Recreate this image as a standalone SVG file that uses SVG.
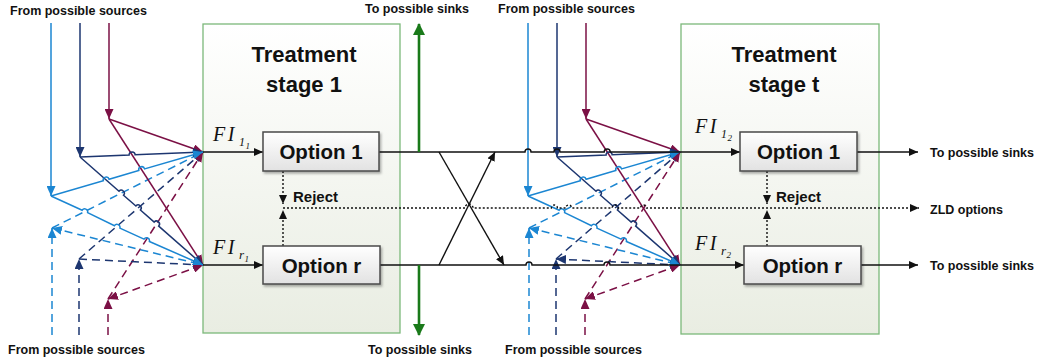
<svg xmlns="http://www.w3.org/2000/svg" width="1039" height="364" viewBox="0 0 1039 364">
<style>
.lbl{font-family:"Liberation Sans",Arial,sans-serif;font-weight:bold;font-size:12.5px;fill:#111}
.title{font-family:"Liberation Sans",Arial,sans-serif;font-weight:bold;font-size:22px;fill:#111;text-anchor:middle}
.opt{font-family:"Liberation Sans",Arial,sans-serif;font-weight:bold;font-size:20.5px;fill:#111;text-anchor:middle}
.rej{font-family:"Liberation Sans",Arial,sans-serif;font-weight:bold;font-size:15px;fill:#111}
.fi{font-family:"Liberation Serif","Times New Roman",serif;font-style:italic;font-weight:normal;fill:#111}
.fb{font-size:20px;letter-spacing:2.5px}
.stage{fill:url(#stg);stroke:#7cb87a;stroke-width:1.3}
.obox{fill:url(#og);stroke:#4a4a4a;stroke-width:1.5;filter:url(#sh)}
.k{fill:none;stroke:#111;stroke-width:1.4}
.dot{fill:none;stroke:#111;stroke-width:1.4;stroke-dasharray:2 2}
.g{fill:none;stroke:#1a7a1a;stroke-width:2.6}
.lb{fill:none;stroke:#1b86d2;stroke-width:1.5}
.nv{fill:none;stroke:#1d3670;stroke-width:1.5}
.mr{fill:none;stroke:#7b1045;stroke-width:1.5}
.d{stroke-dasharray:8 5}
</style>
<defs>
<linearGradient id="stg" x1="0" y1="0" x2="0" y2="1"><stop offset="0" stop-color="#ffffff"/><stop offset="1" stop-color="#e9ede2"/></linearGradient>
<linearGradient id="og" x1="0" y1="0" x2="0" y2="1"><stop offset="0" stop-color="#ffffff"/><stop offset="1" stop-color="#e2e2e2"/></linearGradient>
<filter id="sh" x="-10%" y="-20%" width="130%" height="160%"><feDropShadow dx="1.5" dy="2" stdDeviation="1.2" flood-color="#000" flood-opacity="0.3"/></filter>
<marker id="ak" markerUnits="userSpaceOnUse" markerWidth="10" markerHeight="8" refX="9" refY="4" orient="auto"><path d="M0,0 L9,4 L0,8 z" fill="#111"/></marker>
<marker id="ag" markerUnits="userSpaceOnUse" markerWidth="12" markerHeight="12" refX="11" refY="6" orient="auto"><path d="M0,0 L12,6 L0,12 z" fill="#1a7a1a"/></marker>
<marker id="alb" markerUnits="userSpaceOnUse" markerWidth="11" markerHeight="9" refX="10" refY="4.5" orient="auto"><path d="M0,0 L10,4.5 L0,9 z" fill="#1b86d2"/></marker>
<marker id="anv" markerUnits="userSpaceOnUse" markerWidth="11" markerHeight="9" refX="10" refY="4.5" orient="auto"><path d="M0,0 L10,4.5 L0,9 z" fill="#1d3670"/></marker>
<marker id="amr" markerUnits="userSpaceOnUse" markerWidth="11" markerHeight="9" refX="10" refY="4.5" orient="auto"><path d="M0,0 L10,4.5 L0,9 z" fill="#7b1045"/></marker>
<marker id="rlb" markerUnits="userSpaceOnUse" markerWidth="11" markerHeight="9" refX="10" refY="4.5" orient="auto-start-reverse"><path d="M0,0 L10,4.5 L0,9 z" fill="#1b86d2"/></marker>
<marker id="rnv" markerUnits="userSpaceOnUse" markerWidth="11" markerHeight="9" refX="10" refY="4.5" orient="auto-start-reverse"><path d="M0,0 L10,4.5 L0,9 z" fill="#1d3670"/></marker>
<marker id="rmr" markerUnits="userSpaceOnUse" markerWidth="11" markerHeight="9" refX="10" refY="4.5" orient="auto-start-reverse"><path d="M0,0 L10,4.5 L0,9 z" fill="#7b1045"/></marker>
</defs>
<rect width="1039" height="364" fill="#ffffff"/>

<g id="stage1">
<rect class="stage" x="203" y="24" width="197" height="309"/>
<text class="title" x="304" y="62">Treatment</text>
<text class="title" x="304" y="92">stage 1</text>
</g>
<g id="staget">
<rect class="stage" x="681" y="24" width="198" height="310"/>
<text class="title" x="784" y="62">Treatment</text>
<text class="title" x="784" y="92">stage t</text>
</g>

<g id="connectors">
<g id="mixer1">
<path class="lb" d="M51,23 L51,196" marker-end="url(#alb)"/>
<path class="nv" d="M80,23 L80,157" marker-end="url(#anv)"/>
<path class="mr" d="M109,23 L109,119" marker-end="url(#amr)"/>
<path class="lb d" d="M52,335 L52,228" marker-end="url(#alb)"/>
<path class="nv d" d="M79,335 L79,259" marker-end="url(#anv)"/>
<path class="mr d" d="M108,335 L108,299" marker-end="url(#amr)"/>
<path class="lb d" d="M52,228 L203,152" marker-end="url(#alb)"/>
<path class="nv d" d="M79,259 L203,152" marker-end="url(#anv)"/>
<path class="mr d" d="M108,299 L203,152" marker-end="url(#amr)"/>
<path class="lb d" d="M52,228 L203,265" marker-start="url(#rlb)" marker-end="url(#alb)"/>
<path class="nv d" d="M79,259 L203,265" marker-end="url(#anv)"/>
<path class="mr d" d="M108,299 L203,265" marker-start="url(#rmr)" marker-end="url(#amr)"/>
<path class="mr" d="M109,119 L203,152" marker-end="url(#amr)"/>
<path class="mr" d="M109,119 L203,265" marker-end="url(#amr)"/>
<path class="nv" d="M80,157 L129.1,155 A3,3 0 0 1 135.1,154.8 L203,152" marker-end="url(#anv)"/>
<path class="nv" d="M80,157 L119,191.2 A3,3 0 0 1 123.5,195.2 L135.9,206 A3,3 0 0 1 140.4,210 L154.2,222.1 A3,3 0 0 1 158.7,226.1 L203,265" marker-end="url(#anv)"/>
<path class="lb" d="M51,196 L103.3,180.8 A3,3 0 0 1 109.1,179.2 L138.8,170.5 A3,3 0 0 1 144.6,168.9 L203,152" marker-end="url(#alb)"/>
<path class="lb" d="M51,196 L82.2,210.2 A3,3 0 0 1 87.6,212.6 L114.5,225.7 A3,3 0 0 1 119.9,228.1 L144,239.1 A3,3 0 0 1 149.4,241.5 L203,265" marker-end="url(#alb)"/>
</g>
<g id="mixer2" transform="translate(477,0)">
<path class="lb" d="M51,23 L51,196" marker-end="url(#alb)"/>
<path class="nv" d="M80,23 L80,157" marker-end="url(#anv)"/>
<path class="mr" d="M109,23 L109,119" marker-end="url(#amr)"/>
<path class="lb d" d="M52,335 L52,228" marker-end="url(#alb)"/>
<path class="nv d" d="M79,335 L79,259" marker-end="url(#anv)"/>
<path class="mr d" d="M108,335 L108,299" marker-end="url(#amr)"/>
<path class="lb d" d="M52,228 L203,152" marker-end="url(#alb)"/>
<path class="nv d" d="M79,259 L203,152" marker-end="url(#anv)"/>
<path class="mr d" d="M108,299 L203,152" marker-end="url(#amr)"/>
<path class="lb d" d="M52,228 L203,265" marker-start="url(#rlb)" marker-end="url(#alb)"/>
<path class="nv d" d="M79,259 L203,265" marker-start="url(#rnv)" marker-end="url(#anv)"/>
<path class="mr d" d="M108,299 L203,265" marker-start="url(#rmr)" marker-end="url(#amr)"/>
<path class="mr" d="M109,119 L203,152" marker-end="url(#amr)"/>
<path class="mr" d="M109,119 L203,265" marker-end="url(#amr)"/>
<path class="nv" d="M80,157 L129.1,155 A3,3 0 0 1 135.1,154.8 L203,152" marker-end="url(#anv)"/>
<path class="nv" d="M80,157 L119,191.2 A3,3 0 0 1 123.5,195.2 L135.9,206 A3,3 0 0 1 140.4,210 L154.2,222.1 A3,3 0 0 1 158.7,226.1 L203,265" marker-end="url(#anv)"/>
<path class="lb" d="M51,196 L103.3,180.8 A3,3 0 0 1 109.1,179.2 L138.8,170.5 A3,3 0 0 1 144.6,168.9 L203,152" marker-end="url(#alb)"/>
<path class="lb" d="M51,196 L82.2,210.2 A3,3 0 0 1 87.6,212.6 L114.5,225.7 A3,3 0 0 1 119.9,228.1 L144,239.1 A3,3 0 0 1 149.4,241.5 L203,265" marker-end="url(#alb)"/>
</g>
<path class="k" d="M203,152 L263,152" marker-end="url(#ak)"/>
<path class="k" d="M203,265 L263,265" marker-end="url(#ak)"/>
<path class="k" d="M379,152 L525,152 A3,3 0 0 1 531,152 L554,152 A3,3 0 0 1 560,152 L604.2,152 A3,3 0 0 1 610.2,152 L740,152" marker-end="url(#ak)"/>
<path class="k" d="M380,265 L526,265 A3,3 0 0 1 532,265 L604,265 A3,3 0 0 1 610,265 L744,265" marker-end="url(#ak)"/>
<path class="k" d="M439,152 L504,265" marker-end="url(#ak)"/>
<path class="k" d="M439,265 L495,152" marker-end="url(#ak)"/>
<path class="g" d="M419,152 L419,24" marker-end="url(#ag)"/>
<path class="g" d="M419,265 L419,335" marker-end="url(#ag)"/>
<path class="dot" d="M283,171 L283,204" marker-end="url(#ak)"/>
<path class="dot" d="M283,246 L283,210" marker-end="url(#ak)"/>
<path class="dot" d="M767,171 L767,204" marker-end="url(#ak)"/>
<path class="dot" d="M767,246 L767,210" marker-end="url(#ak)"/>
<path class="dot" d="M283,208 L465,208 A4,4 0 0 1 473,208 L551.4,208 A3,3 0 0 1 557.4,208 L565.7,208 A3,3 0 0 1 571.7,208 L612.1,208 A3,3 0 0 1 618.1,208 L640.5,208 A3,3 0 0 1 646.5,208 L919,208" marker-end="url(#ak)"/>
<path class="k" d="M857,152 L918,152" marker-end="url(#ak)"/>
<path class="k" d="M861,265 L918,265" marker-end="url(#ak)"/>
</g>

<g id="opt1s1"><rect class="obox" x="263" y="132" width="116" height="39"/><text class="opt" x="321" y="159">Option 1</text></g>
<g id="optrs1"><rect class="obox" x="263" y="246" width="117" height="38"/><text class="opt" x="321.5" y="273">Option r</text></g>
<g id="opt1st"><rect class="obox" x="740" y="132" width="117" height="39"/><text class="opt" x="798.5" y="159">Option 1</text></g>
<g id="optrst"><rect class="obox" x="744" y="246" width="117" height="38"/><text class="opt" x="802.5" y="273">Option r</text></g>

<g id="labels">
<text class="fi fb" x="213" y="141">FI</text>
<text class="fi" x="239" y="146" font-size="12" font-style="normal">1</text>
<text class="fi" x="245.5" y="149" font-size="9" font-style="normal">1</text>
<text class="fi fb" x="213" y="254">FI</text>
<text class="fi" x="239" y="259" font-size="13">r</text>
<text class="fi" x="244.5" y="262" font-size="9" font-style="normal">1</text>
<text class="fi fb" x="695" y="133">FI</text>
<text class="fi" x="721" y="138" font-size="12" font-style="normal">1</text>
<text class="fi" x="727.5" y="141" font-size="9" font-style="normal">2</text>
<text class="fi fb" x="695" y="250">FI</text>
<text class="fi" x="721" y="255" font-size="13">r</text>
<text class="fi" x="726.5" y="258" font-size="9" font-style="normal">2</text>
<text class="rej" x="293" y="202">Reject</text>
<text class="rej" x="776" y="202">Reject</text>
<text class="lbl" x="10" y="15">From possible sources</text>
<text class="lbl" x="365" y="13">To possible sinks</text>
<text class="lbl" x="498" y="13">From possible sources</text>
<text class="lbl" x="8" y="354">From possible sources</text>
<text class="lbl" x="368" y="354">To possible sinks</text>
<text class="lbl" x="505" y="354">From possible sources</text>
<text class="lbl" x="930" y="157">To possible sinks</text>
<text class="lbl" x="930" y="214">ZLD options</text>
<text class="lbl" x="930" y="270">To possible sinks</text>
</g>
</svg>
